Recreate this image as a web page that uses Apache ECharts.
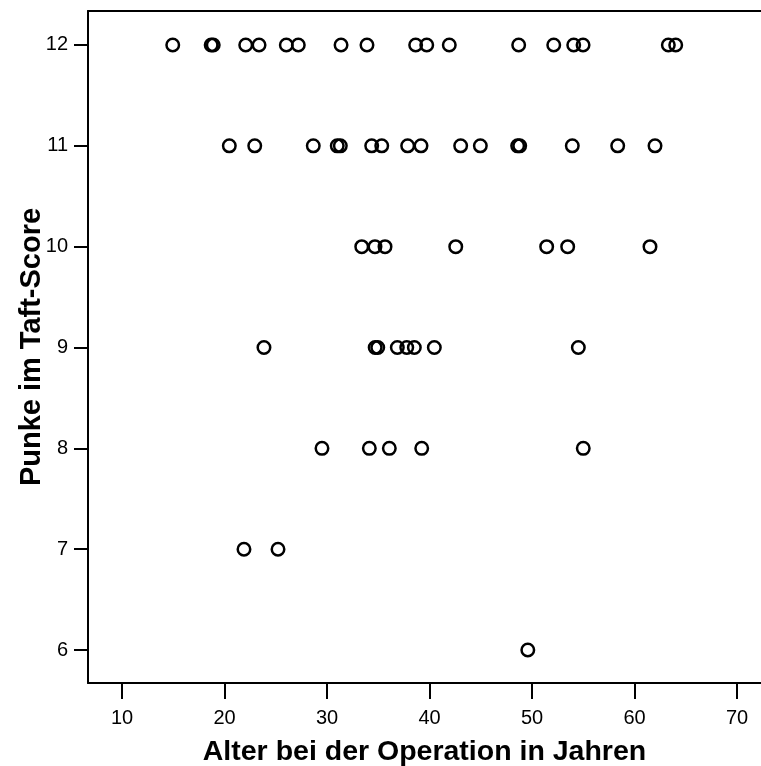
<!DOCTYPE html>
<html>
<head>
<meta charset="utf-8">
<script src="https://cdn.jsdelivr.net/npm/echarts@6/dist/echarts.min.js"></script>
<style>
html,body{margin:0;padding:0;background:#fff;}
#c{width:761px;height:766px;}
</style>
</head>
<body>
<div id="c"></div>
<script>
// Ages (years) of patients grouped by Taft score
const ages12 = [14.95, 18.7, 18.9, 22.07, 23.37, 26.03, 27.2, 31.37, 33.9, 38.65, 39.73, 41.93, 48.7, 52.12, 54.07, 54.98, 63.3, 64.02];
const ages11 = [20.47, 22.95, 28.66, 31.0, 31.3, 34.36, 35.34, 37.87, 39.17, 43.04, 44.96, 48.6, 48.8, 53.93, 58.36, 62.0];
const ages10 = [33.39, 34.68, 35.66, 42.56, 51.43, 53.48, 61.51];
const ages9 = [23.85, 34.7, 34.95, 36.86, 37.78, 38.52, 40.47, 54.52];
const ages8 = [29.51, 34.13, 36.08, 39.24, 55.0];
const ages7 = [21.9, 25.22];
const ages6 = [49.59];
const scores = [12, 11, 10, 9, 8, 7, 6];
const xTicks = [10, 20, 30, 40, 50, 60, 70];
const yTicks = [6, 7, 8, 9, 10, 11, 12];
const xTitle = 'Alter bei der Operation in Jahren';
const yTitle = 'Punke im Taft-Score';

const groups = [ages12, ages11, ages10, ages9, ages8, ages7, ages6];
const points = [];
groups.forEach((arr, i) => arr.forEach(a => points.push([a, scores[i]])));

const chart = echarts.init(document.getElementById('c'), null, {renderer: 'canvas'});
const font = '"Liberation Sans", Arial, sans-serif';
const XMIN = 6.683, XMAX = 72.34;
chart.setOption({
  animation: false,
  backgroundColor: '#fff',
  grid: {left: 88, top: 11, right: 0, bottom: 83, show: false, containLabel: false, outerBoundsMode: 'none'},
  xAxis: [{
    type: 'value', min: XMIN, max: XMAX, position: 'bottom',
    axisLine: {show: true, onZero: false, lineStyle: {color: '#000', width: 2}},
    axisTick: {show: true, customValues: xTicks, length: 16, lineStyle: {color: '#000', width: 2}},
    axisLabel: {customValues: xTicks, color: '#000', fontSize: 20, fontFamily: font, margin: 25},
    splitLine: {show: false},
    name: xTitle, nameLocation: 'middle', nameGap: 55, nameMoveOverlap: false,
    nameTextStyle: {color: '#000', fontSize: 28.5, fontWeight: 'bold', fontFamily: font}
  }, {
    type: 'value', min: XMIN, max: XMAX, position: 'top',
    axisLine: {show: true, onZero: false, lineStyle: {color: '#000', width: 2}},
    axisTick: {show: false}, axisLabel: {show: false}, splitLine: {show: false}
  }],
  yAxis: {
    type: 'value', min: 5.673, max: 12.337,
    axisLine: {show: true, onZero: false, lineStyle: {color: '#000', width: 2}},
    axisTick: {show: true, customValues: yTicks, length: 14, lineStyle: {color: '#000', width: 2}},
    axisLabel: {customValues: yTicks, color: '#000', fontSize: 20, fontFamily: font, margin: 20},
    splitLine: {show: false},
    name: yTitle, nameLocation: 'middle', nameGap: 42, nameMoveOverlap: false,
    nameTextStyle: {color: '#000', fontSize: 29, fontWeight: 'bold', fontFamily: font}
  },
  series: [{
    type: 'scatter',
    xAxisIndex: 0,
    data: points,
    symbol: 'circle',
    symbolSize: 12.5,
    itemStyle: {color: 'rgba(0,0,0,0)', borderColor: '#000', borderWidth: 2.5, opacity: 1},
    emphasis: {disabled: true}
  }]
});
</script>
</body>
</html>
